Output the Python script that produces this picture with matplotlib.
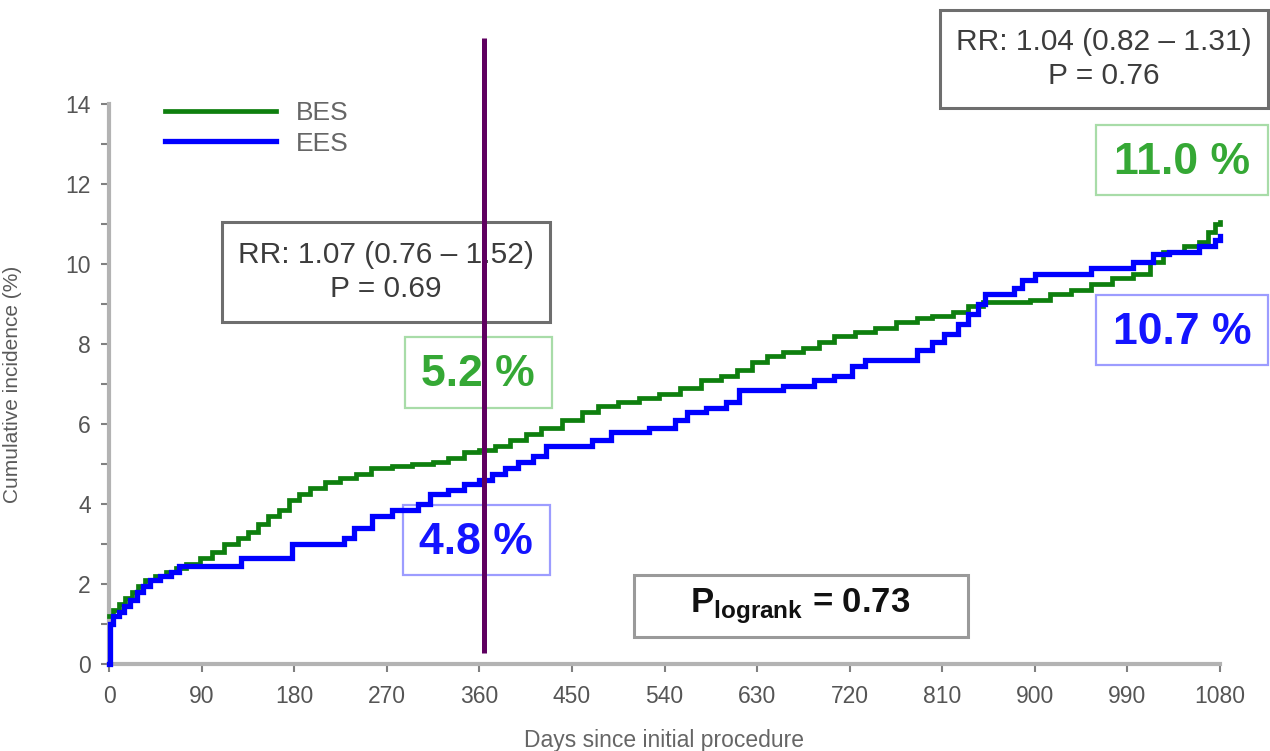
import matplotlib
matplotlib.use("Agg")
import matplotlib.pyplot as plt
from matplotlib.patches import Rectangle

# ---------------- data ----------------
bes_days = [0, 4, 10, 16, 22, 28, 35, 45, 55, 65, 75, 88, 100, 112, 125, 135, 145, 155, 165,
            175, 185, 195, 210, 225, 240, 255, 275, 295, 315, 330, 345, 360, 375, 390, 405,
            420, 440, 460, 475, 495, 515, 535, 555, 575, 595, 610, 625, 640, 655, 675, 690,
            705, 725, 745, 765, 785, 800, 820, 835, 850, 895, 915, 935, 955, 975, 995, 1012,
            1025, 1045, 1060, 1068, 1075, 1080]
bes_vals = [1.2, 1.35, 1.5, 1.65, 1.8, 1.95, 2.1, 2.2, 2.3, 2.4, 2.5, 2.65, 2.8, 3.0, 3.15, 3.3,
            3.5, 3.7, 3.85, 4.1, 4.25, 4.4, 4.55, 4.65, 4.75, 4.9, 4.95, 5.0, 5.05, 5.15, 5.3,
            5.35, 5.45, 5.6, 5.75, 5.9, 6.1, 6.3, 6.45, 6.55, 6.65, 6.75, 6.9, 7.1, 7.2, 7.35,
            7.55, 7.7, 7.8, 7.9, 8.05, 8.2, 8.3, 8.4, 8.55, 8.65, 8.7, 8.8, 8.95, 9.05, 9.1,
            9.25, 9.35, 9.5, 9.65, 9.75, 10.05, 10.3, 10.45, 10.55, 10.8, 11.0, 11.05]

ees_days = [0, 1, 4, 10, 15, 20, 27, 33, 40, 50, 60, 68, 128, 178, 228, 238, 256, 275, 300,
            312, 330, 345, 360, 372, 385, 398, 412, 425, 470, 488, 525, 550, 562, 580, 600,
            612, 655, 685, 705, 722, 735, 785, 800, 812, 825, 835, 845, 852, 880, 888, 900,
            955, 995, 1015, 1030, 1060, 1075, 1080]
ees_vals = [0.0, 1.0, 1.2, 1.3, 1.45, 1.6, 1.8, 1.95, 2.1, 2.2, 2.3, 2.45, 2.65, 3.0, 3.15,
            3.4, 3.7, 3.85, 4.0, 4.25, 4.35, 4.5, 4.6, 4.75, 4.9, 5.05, 5.2, 5.45, 5.6, 5.8,
            5.9, 6.1, 6.3, 6.4, 6.55, 6.85, 6.95, 7.1, 7.2, 7.45, 7.6, 7.85, 8.05, 8.25, 8.5,
            8.75, 9.0, 9.25, 9.4, 9.6, 9.75, 9.9, 10.05, 10.25, 10.3, 10.45, 10.6, 10.7]

series_names = ["BES", "EES"]
x_ticks = [0, 90, 180, 270, 360, 450, 540, 630, 720, 810, 900, 990, 1080]
y_ticks = [0, 2, 4, 6, 8, 10, 12, 14]
landmark_day = 365

rr_1y = "RR: 1.07 (0.76 \u2013 1.52)\nP = 0.69"
rr_3y = "RR: 1.04 (0.82 \u2013 1.31)\nP = 0.76"
pct_bes_1y, pct_ees_1y = "5.2 %", "4.8 %"
pct_bes_3y, pct_ees_3y = "11.0 %", "10.7 %"
p_logrank = r"P$_{\mathbf{logrank}}$ = 0.73"

# ---------------- style ----------------
plt.rcParams['font.family'] = ['Liberation Sans', 'DejaVu Sans']
plt.rcParams['mathtext.fontset'] = 'custom'
plt.rcParams['mathtext.rm'] = 'Liberation Sans'
plt.rcParams['mathtext.bf'] = 'Liberation Sans:bold'

W, H = 1270, 751
fig = plt.figure(figsize=(W / 100, H / 100), dpi=100)
ax = fig.add_axes([109 / W, 1 - 664 / H, (1220 - 109) / W, (664 - 104) / H])

GREEN = '#0e7f0e'
BLUE = '#0000ff'
axis_gray = '#b3b3b3'

ax.plot(bes_days, bes_vals, drawstyle='steps-post', color=GREEN, lw=3.4,
        label=series_names[0], zorder=3, clip_on=False, solid_joinstyle='miter')
ax.plot(ees_days, ees_vals, drawstyle='steps-post', color=BLUE, lw=3.8,
        label=series_names[1], zorder=3.5, clip_on=False, solid_joinstyle='miter')

ax.set_xlim(0, 1080)
ax.set_ylim(0, 14)
ax.set_xticks(x_ticks)
ax.set_yticks(y_ticks)
ax.set_yticks([1, 3, 5, 7, 9, 11, 13], minor=True)
for s in ['top', 'right']:
    ax.spines[s].set_visible(False)
for s in ['left', 'bottom']:
    ax.spines[s].set_color(axis_gray)
    ax.spines[s].set_linewidth(3)
ax.tick_params(axis='both', which='both', colors='#808080', width=1.5, length=6,
               labelcolor='#555555', labelsize=16.5)
ax.tick_params(axis='x', pad=9)
ax.tick_params(axis='y', pad=7)

ax.set_xlabel("Days since initial procedure", fontsize=16.5, color='#666666')
ax.xaxis.set_label_coords(0.5, -(729 - 664) / 560)
ax.set_ylabel("Cumulative incidence (%)", fontsize=15, color='#5a5a5a')
ax.yaxis.set_label_coords((22 - 109) / 1111, 0.5)

leg = ax.legend(loc='upper left', bbox_to_anchor=(165 / W, 1 - 101 / H),
                bbox_transform=fig.transFigure, frameon=False, fontsize=19,
                handlelength=4.2, handletextpad=0.75, labelspacing=0.25,
                borderpad=0, borderaxespad=0)
for t in leg.get_texts():
    t.set_color('#666666')

# landmark line at 1 year
ax.plot([landmark_day, landmark_day], [0.27, 15.65], color='#5f0060', lw=3.6,
        zorder=10, clip_on=False, solid_capstyle='butt')

tf = fig.transFigure


def box(x0, y0, x1, y1, ec, lw):
    r = Rectangle((x0 / W, 1 - y1 / H), (x1 - x0) / W, (y1 - y0) / H, transform=tf,
                  facecolor='white', edgecolor=ec, lw=lw, zorder=2, clip_on=False)
    ax.add_patch(r)


def label(x, y, s, **kw):
    ax.text(x / W, 1 - y / H, s, transform=tf, ha='center', va='center', zorder=5,
            clip_on=False, **kw)


# RR boxes
box(940, 10, 1268, 108, '#6e6e6e', 2.2)
label(1104, 59, rr_3y, fontsize=21.5, color='#3c3c3c', linespacing=1.3)
box(222, 222, 550, 322, '#6e6e6e', 2.2)
label(386, 272, rr_1y, fontsize=21.5, color='#3c3c3c', linespacing=1.3)

# percentage boxes
box(1096, 125, 1268, 195, '#a8dca8', 1.6)
label(1182, 162, pct_bes_3y, fontsize=32, fontweight='bold', color='#35a835')
box(1096, 295, 1268, 365, '#9c9cff', 1.6)
label(1182, 332, pct_ees_3y, fontsize=32, fontweight='bold', color='#1414ff')
box(405, 337, 552, 408, '#a8dca8', 1.6)
label(478, 374, pct_bes_1y, fontsize=32, fontweight='bold', color='#35a835')
box(403, 505, 550, 575, '#9c9cff', 1.6)
label(476, 542, pct_ees_1y, fontsize=32, fontweight='bold', color='#1414ff')

# logrank box
box(634, 575, 968, 637, '#9a9a9a', 2.2)
label(800, 606, p_logrank, fontsize=25, fontweight='bold', color='#111111')

fig.savefig("out.png", dpi=100)
